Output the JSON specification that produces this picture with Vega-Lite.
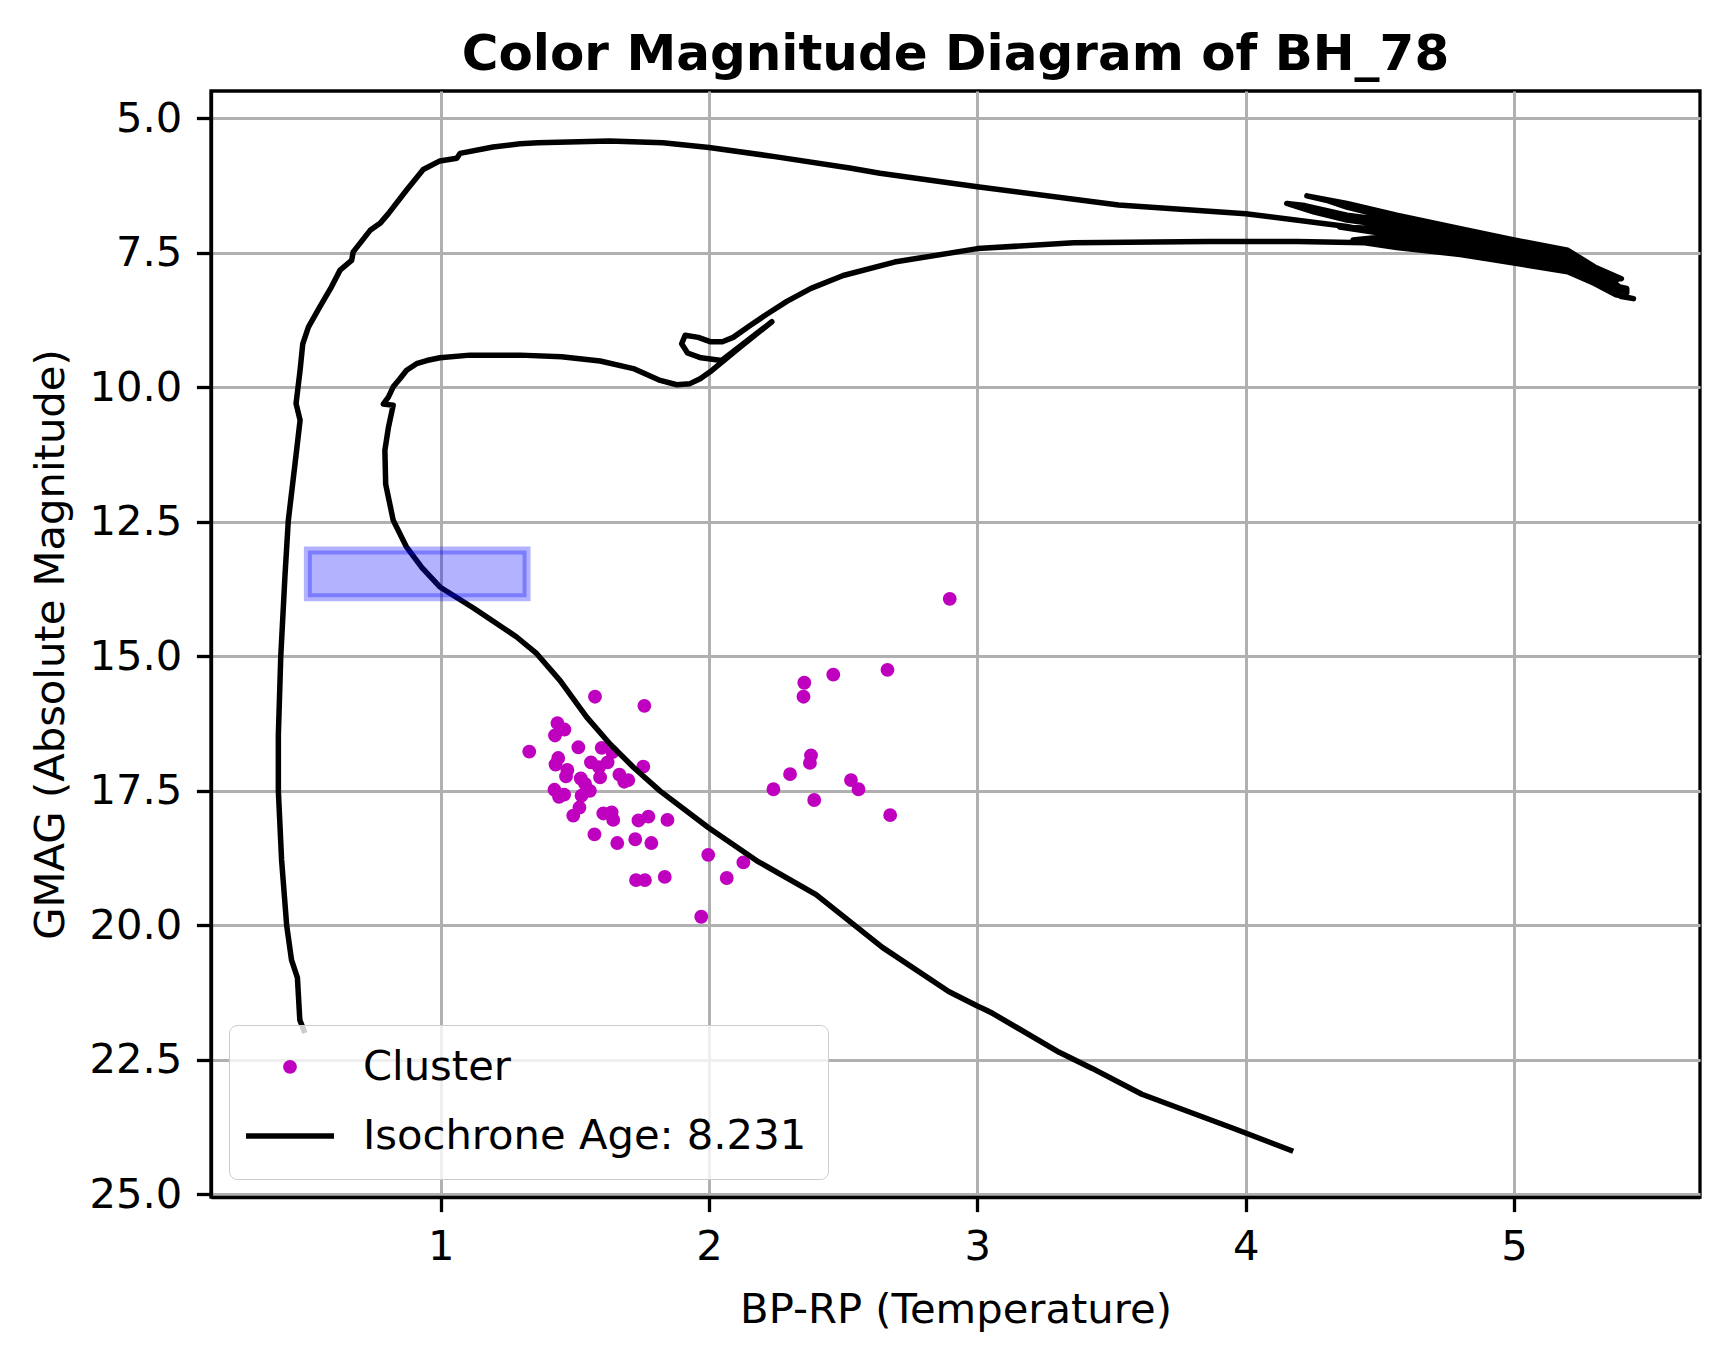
{
  "$schema": "https://vega.github.io/schema/vega-lite/v6.json",
  "width": 1489,
  "height": 1106,
  "autosize": {"type": "none"},
  "padding": {"left": 211, "top": 91, "right": 28, "bottom": 164},
  "background": "white",
  "title": {
    "text": "Color Magnitude Diagram of BH_78",
    "fontSize": 50,
    "fontWeight": "bold",
    "anchor": "middle",
    "baseline": "alphabetic",
    "offset": -29,
    "color": "black"
  },
  "config": {
    "font": "DejaVu Sans",
    "view": {"stroke": "black", "strokeWidth": 3.3},
    "axis": {
      "labelFontSize": 41.7,
      "labelColor": "black",
      "titleFontSize": 41.7,
      "titleFontWeight": "normal",
      "titleColor": "black",
      "tickSize": 14.6,
      "tickWidth": 3.3,
      "tickColor": "black",
      "domainColor": "black",
      "domainWidth": 3.3,
      "grid": true,
      "gridColor": "#b0b0b0",
      "gridWidth": 3,
      "gridOpacity": 1,
      "labelPadding": 14.6,
      "labelFlush": false,
      "labelOverlap": false
    },
    "legend": {
      "orient": "bottom-left",
      "offset": 18,
      "labelFontSize": 41.7,
      "labelColor": "black",
      "labelLimit": 1000,
      "symbolStrokeWidth": 5.5,
      "symbolOpacity": 1,
      "symbolOffset": -7,
      "labelOffset": 26,
      "rowPadding": -25,
      "padding": 21,
      "fillColor": "rgba(255,255,255,0.8)",
      "strokeColor": "#cccccc",
      "cornerRadius": 8
    }
  },
  "datasets": {
    "cluster": [
      {"bp_rp": 1.575, "gmag": 15.75, "series": "Cluster"},
      {"bp_rp": 1.759, "gmag": 15.92, "series": "Cluster"},
      {"bp_rp": 1.435, "gmag": 16.24, "series": "Cluster"},
      {"bp_rp": 1.461, "gmag": 16.36, "series": "Cluster"},
      {"bp_rp": 1.426, "gmag": 16.47, "series": "Cluster"},
      {"bp_rp": 1.330, "gmag": 16.77, "series": "Cluster"},
      {"bp_rp": 1.513, "gmag": 16.69, "series": "Cluster"},
      {"bp_rp": 1.600, "gmag": 16.70, "series": "Cluster"},
      {"bp_rp": 1.640, "gmag": 16.78, "series": "Cluster"},
      {"bp_rp": 1.438, "gmag": 16.89, "series": "Cluster"},
      {"bp_rp": 1.428, "gmag": 17.01, "series": "Cluster"},
      {"bp_rp": 1.622, "gmag": 16.97, "series": "Cluster"},
      {"bp_rp": 1.560, "gmag": 16.97, "series": "Cluster"},
      {"bp_rp": 1.472, "gmag": 17.11, "series": "Cluster"},
      {"bp_rp": 1.590, "gmag": 17.06, "series": "Cluster"},
      {"bp_rp": 1.755, "gmag": 17.05, "series": "Cluster"},
      {"bp_rp": 1.467, "gmag": 17.23, "series": "Cluster"},
      {"bp_rp": 1.522, "gmag": 17.27, "series": "Cluster"},
      {"bp_rp": 1.594, "gmag": 17.25, "series": "Cluster"},
      {"bp_rp": 1.666, "gmag": 17.20, "series": "Cluster"},
      {"bp_rp": 1.684, "gmag": 17.33, "series": "Cluster"},
      {"bp_rp": 1.699, "gmag": 17.30, "series": "Cluster"},
      {"bp_rp": 1.538, "gmag": 17.37, "series": "Cluster"},
      {"bp_rp": 1.424, "gmag": 17.48, "series": "Cluster"},
      {"bp_rp": 1.460, "gmag": 17.57, "series": "Cluster"},
      {"bp_rp": 1.441, "gmag": 17.61, "series": "Cluster"},
      {"bp_rp": 1.556, "gmag": 17.50, "series": "Cluster"},
      {"bp_rp": 1.525, "gmag": 17.59, "series": "Cluster"},
      {"bp_rp": 1.517, "gmag": 17.81, "series": "Cluster"},
      {"bp_rp": 1.494, "gmag": 17.96, "series": "Cluster"},
      {"bp_rp": 1.606, "gmag": 17.92, "series": "Cluster"},
      {"bp_rp": 1.637, "gmag": 17.90, "series": "Cluster"},
      {"bp_rp": 1.643, "gmag": 18.04, "series": "Cluster"},
      {"bp_rp": 1.737, "gmag": 18.05, "series": "Cluster"},
      {"bp_rp": 1.774, "gmag": 17.98, "series": "Cluster"},
      {"bp_rp": 1.845, "gmag": 18.04, "series": "Cluster"},
      {"bp_rp": 1.573, "gmag": 18.31, "series": "Cluster"},
      {"bp_rp": 1.658, "gmag": 18.47, "series": "Cluster"},
      {"bp_rp": 1.725, "gmag": 18.40, "series": "Cluster"},
      {"bp_rp": 1.785, "gmag": 18.47, "series": "Cluster"},
      {"bp_rp": 1.997, "gmag": 18.69, "series": "Cluster"},
      {"bp_rp": 1.728, "gmag": 19.16, "series": "Cluster"},
      {"bp_rp": 1.761, "gmag": 19.16, "series": "Cluster"},
      {"bp_rp": 1.835, "gmag": 19.10, "series": "Cluster"},
      {"bp_rp": 1.971, "gmag": 19.84, "series": "Cluster"},
      {"bp_rp": 2.066, "gmag": 19.12, "series": "Cluster"},
      {"bp_rp": 2.128, "gmag": 18.83, "series": "Cluster"},
      {"bp_rp": 2.665, "gmag": 15.25, "series": "Cluster"},
      {"bp_rp": 2.463, "gmag": 15.34, "series": "Cluster"},
      {"bp_rp": 2.355, "gmag": 15.49, "series": "Cluster"},
      {"bp_rp": 2.352, "gmag": 15.75, "series": "Cluster"},
      {"bp_rp": 2.380, "gmag": 16.84, "series": "Cluster"},
      {"bp_rp": 2.376, "gmag": 16.98, "series": "Cluster"},
      {"bp_rp": 2.302, "gmag": 17.19, "series": "Cluster"},
      {"bp_rp": 2.240, "gmag": 17.47, "series": "Cluster"},
      {"bp_rp": 2.529, "gmag": 17.30, "series": "Cluster"},
      {"bp_rp": 2.557, "gmag": 17.47, "series": "Cluster"},
      {"bp_rp": 2.392, "gmag": 17.67, "series": "Cluster"},
      {"bp_rp": 2.675, "gmag": 17.95, "series": "Cluster"},
      {"bp_rp": 2.897, "gmag": 13.93, "series": "Cluster"}
    ],
    "isochrone": [
      {"i": 0, "bp_rp": 4.177, "gmag": 24.20},
      {"i": 1, "bp_rp": 3.963, "gmag": 23.79},
      {"i": 2, "bp_rp": 3.613, "gmag": 23.14},
      {"i": 3, "bp_rp": 3.428, "gmag": 22.66},
      {"i": 4, "bp_rp": 3.305, "gmag": 22.36},
      {"i": 5, "bp_rp": 3.058, "gmag": 21.64},
      {"i": 6, "bp_rp": 3.030, "gmag": 21.57},
      {"i": 7, "bp_rp": 3.000, "gmag": 21.50},
      {"i": 8, "bp_rp": 2.893, "gmag": 21.23},
      {"i": 9, "bp_rp": 2.646, "gmag": 20.41},
      {"i": 10, "bp_rp": 2.399, "gmag": 19.43},
      {"i": 11, "bp_rp": 2.178, "gmag": 18.80},
      {"i": 12, "bp_rp": 1.997, "gmag": 18.18},
      {"i": 13, "bp_rp": 1.817, "gmag": 17.50},
      {"i": 14, "bp_rp": 1.718, "gmag": 17.06},
      {"i": 15, "bp_rp": 1.631, "gmag": 16.63},
      {"i": 16, "bp_rp": 1.544, "gmag": 16.13},
      {"i": 17, "bp_rp": 1.445, "gmag": 15.45},
      {"i": 18, "bp_rp": 1.358, "gmag": 14.95},
      {"i": 19, "bp_rp": 1.283, "gmag": 14.64},
      {"i": 20, "bp_rp": 1.200, "gmag": 14.36},
      {"i": 21, "bp_rp": 1.122, "gmag": 14.10},
      {"i": 22, "bp_rp": 0.997, "gmag": 13.71},
      {"i": 23, "bp_rp": 0.930, "gmag": 13.35},
      {"i": 24, "bp_rp": 0.873, "gmag": 12.97},
      {"i": 25, "bp_rp": 0.823, "gmag": 12.47},
      {"i": 26, "bp_rp": 0.795, "gmag": 11.80},
      {"i": 27, "bp_rp": 0.792, "gmag": 11.17},
      {"i": 28, "bp_rp": 0.805, "gmag": 10.75},
      {"i": 29, "bp_rp": 0.823, "gmag": 10.33},
      {"i": 30, "bp_rp": 0.786, "gmag": 10.31},
      {"i": 31, "bp_rp": 0.805, "gmag": 10.18},
      {"i": 32, "bp_rp": 0.823, "gmag": 9.99},
      {"i": 33, "bp_rp": 0.848, "gmag": 9.84},
      {"i": 34, "bp_rp": 0.873, "gmag": 9.68},
      {"i": 35, "bp_rp": 0.910, "gmag": 9.56},
      {"i": 36, "bp_rp": 0.948, "gmag": 9.50},
      {"i": 37, "bp_rp": 0.997, "gmag": 9.45},
      {"i": 38, "bp_rp": 1.109, "gmag": 9.40},
      {"i": 39, "bp_rp": 1.296, "gmag": 9.40},
      {"i": 40, "bp_rp": 1.450, "gmag": 9.43},
      {"i": 41, "bp_rp": 1.594, "gmag": 9.51},
      {"i": 42, "bp_rp": 1.718, "gmag": 9.65},
      {"i": 43, "bp_rp": 1.818, "gmag": 9.87},
      {"i": 44, "bp_rp": 1.880, "gmag": 9.95},
      {"i": 45, "bp_rp": 1.929, "gmag": 9.93},
      {"i": 46, "bp_rp": 1.967, "gmag": 9.84},
      {"i": 47, "bp_rp": 2.004, "gmag": 9.71},
      {"i": 48, "bp_rp": 2.116, "gmag": 9.25},
      {"i": 49, "bp_rp": 2.234, "gmag": 8.78},
      {"i": 50, "bp_rp": 2.047, "gmag": 9.50},
      {"i": 51, "bp_rp": 1.970, "gmag": 9.45},
      {"i": 52, "bp_rp": 1.920, "gmag": 9.36},
      {"i": 53, "bp_rp": 1.898, "gmag": 9.19},
      {"i": 54, "bp_rp": 1.911, "gmag": 9.03},
      {"i": 55, "bp_rp": 1.960, "gmag": 9.07},
      {"i": 56, "bp_rp": 2.004, "gmag": 9.15},
      {"i": 57, "bp_rp": 2.050, "gmag": 9.15},
      {"i": 58, "bp_rp": 2.090, "gmag": 9.07},
      {"i": 59, "bp_rp": 2.153, "gmag": 8.85},
      {"i": 60, "bp_rp": 2.215, "gmag": 8.64},
      {"i": 61, "bp_rp": 2.290, "gmag": 8.40},
      {"i": 62, "bp_rp": 2.380, "gmag": 8.16},
      {"i": 63, "bp_rp": 2.500, "gmag": 7.92},
      {"i": 64, "bp_rp": 2.691, "gmag": 7.67},
      {"i": 65, "bp_rp": 3.000, "gmag": 7.42},
      {"i": 66, "bp_rp": 3.359, "gmag": 7.31},
      {"i": 67, "bp_rp": 3.860, "gmag": 7.29},
      {"i": 68, "bp_rp": 4.194, "gmag": 7.29},
      {"i": 69, "bp_rp": 4.444, "gmag": 7.31},
      {"i": 70, "bp_rp": 4.563, "gmag": 7.40},
      {"i": 71, "bp_rp": 4.800, "gmag": 7.53},
      {"i": 72, "bp_rp": 5.000, "gmag": 7.69},
      {"i": 73, "bp_rp": 5.200, "gmag": 7.85},
      {"i": 74, "bp_rp": 5.300, "gmag": 8.07},
      {"i": 75, "bp_rp": 5.380, "gmag": 8.28},
      {"i": 76, "bp_rp": 5.445, "gmag": 8.35},
      {"i": 77, "bp_rp": 5.400, "gmag": 8.31},
      {"i": 78, "bp_rp": 5.365, "gmag": 8.22},
      {"i": 79, "bp_rp": 5.380, "gmag": 8.12},
      {"i": 80, "bp_rp": 5.420, "gmag": 8.16},
      {"i": 81, "bp_rp": 5.420, "gmag": 8.24},
      {"i": 82, "bp_rp": 5.390, "gmag": 8.15},
      {"i": 83, "bp_rp": 5.300, "gmag": 8.03},
      {"i": 84, "bp_rp": 5.200, "gmag": 7.80},
      {"i": 85, "bp_rp": 5.000, "gmag": 7.64},
      {"i": 86, "bp_rp": 4.800, "gmag": 7.47},
      {"i": 87, "bp_rp": 4.500, "gmag": 7.30},
      {"i": 88, "bp_rp": 4.400, "gmag": 7.26},
      {"i": 89, "bp_rp": 4.500, "gmag": 7.21},
      {"i": 90, "bp_rp": 4.800, "gmag": 7.41},
      {"i": 91, "bp_rp": 5.000, "gmag": 7.58},
      {"i": 92, "bp_rp": 5.200, "gmag": 7.75},
      {"i": 93, "bp_rp": 5.300, "gmag": 7.99},
      {"i": 94, "bp_rp": 5.400, "gmag": 8.20},
      {"i": 95, "bp_rp": 5.300, "gmag": 7.96},
      {"i": 96, "bp_rp": 5.200, "gmag": 7.70},
      {"i": 97, "bp_rp": 5.000, "gmag": 7.53},
      {"i": 98, "bp_rp": 4.800, "gmag": 7.35},
      {"i": 99, "bp_rp": 4.500, "gmag": 7.13},
      {"i": 100, "bp_rp": 4.350, "gmag": 7.02},
      {"i": 101, "bp_rp": 4.500, "gmag": 7.05},
      {"i": 102, "bp_rp": 4.800, "gmag": 7.29},
      {"i": 103, "bp_rp": 5.000, "gmag": 7.47},
      {"i": 104, "bp_rp": 5.200, "gmag": 7.65},
      {"i": 105, "bp_rp": 5.300, "gmag": 7.92},
      {"i": 106, "bp_rp": 5.390, "gmag": 8.12},
      {"i": 107, "bp_rp": 5.300, "gmag": 7.87},
      {"i": 108, "bp_rp": 5.200, "gmag": 7.60},
      {"i": 109, "bp_rp": 5.000, "gmag": 7.42},
      {"i": 110, "bp_rp": 4.800, "gmag": 7.23},
      {"i": 111, "bp_rp": 4.500, "gmag": 6.97},
      {"i": 112, "bp_rp": 4.377, "gmag": 6.89},
      {"i": 113, "bp_rp": 4.253, "gmag": 6.735},
      {"i": 114, "bp_rp": 4.153, "gmag": 6.58},
      {"i": 115, "bp_rp": 4.220, "gmag": 6.62},
      {"i": 116, "bp_rp": 4.377, "gmag": 6.80},
      {"i": 117, "bp_rp": 4.500, "gmag": 6.88},
      {"i": 118, "bp_rp": 4.800, "gmag": 7.17},
      {"i": 119, "bp_rp": 5.000, "gmag": 7.37},
      {"i": 120, "bp_rp": 5.200, "gmag": 7.55},
      {"i": 121, "bp_rp": 5.300, "gmag": 7.84},
      {"i": 122, "bp_rp": 5.380, "gmag": 8.03},
      {"i": 123, "bp_rp": 5.300, "gmag": 7.80},
      {"i": 124, "bp_rp": 5.200, "gmag": 7.50},
      {"i": 125, "bp_rp": 5.000, "gmag": 7.31},
      {"i": 126, "bp_rp": 4.800, "gmag": 7.11},
      {"i": 127, "bp_rp": 4.500, "gmag": 6.80},
      {"i": 128, "bp_rp": 4.377, "gmag": 6.65},
      {"i": 129, "bp_rp": 4.300, "gmag": 6.52},
      {"i": 130, "bp_rp": 4.228, "gmag": 6.44},
      {"i": 131, "bp_rp": 4.377, "gmag": 6.58},
      {"i": 132, "bp_rp": 4.563, "gmag": 6.80},
      {"i": 133, "bp_rp": 4.800, "gmag": 7.05},
      {"i": 134, "bp_rp": 5.000, "gmag": 7.26},
      {"i": 135, "bp_rp": 5.200, "gmag": 7.45},
      {"i": 136, "bp_rp": 5.300, "gmag": 7.76},
      {"i": 137, "bp_rp": 5.400, "gmag": 7.98},
      {"i": 138, "bp_rp": 5.300, "gmag": 7.93},
      {"i": 139, "bp_rp": 5.150, "gmag": 7.66},
      {"i": 140, "bp_rp": 4.900, "gmag": 7.44},
      {"i": 141, "bp_rp": 4.700, "gmag": 7.28},
      {"i": 142, "bp_rp": 4.563, "gmag": 7.20},
      {"i": 143, "bp_rp": 4.377, "gmag": 7.01},
      {"i": 144, "bp_rp": 4.000, "gmag": 6.77},
      {"i": 145, "bp_rp": 3.526, "gmag": 6.61},
      {"i": 146, "bp_rp": 3.000, "gmag": 6.27},
      {"i": 147, "bp_rp": 2.637, "gmag": 6.02},
      {"i": 148, "bp_rp": 2.524, "gmag": 5.92},
      {"i": 149, "bp_rp": 2.245, "gmag": 5.71},
      {"i": 150, "bp_rp": 2.000, "gmag": 5.54},
      {"i": 151, "bp_rp": 1.828, "gmag": 5.45},
      {"i": 152, "bp_rp": 1.628, "gmag": 5.42},
      {"i": 153, "bp_rp": 1.362, "gmag": 5.45},
      {"i": 154, "bp_rp": 1.296, "gmag": 5.47},
      {"i": 155, "bp_rp": 1.195, "gmag": 5.53},
      {"i": 156, "bp_rp": 1.072, "gmag": 5.65},
      {"i": 157, "bp_rp": 1.060, "gmag": 5.74},
      {"i": 158, "bp_rp": 0.997, "gmag": 5.79},
      {"i": 159, "bp_rp": 0.935, "gmag": 5.95},
      {"i": 160, "bp_rp": 0.873, "gmag": 6.33},
      {"i": 161, "bp_rp": 0.805, "gmag": 6.77},
      {"i": 162, "bp_rp": 0.774, "gmag": 6.95},
      {"i": 163, "bp_rp": 0.737, "gmag": 7.08},
      {"i": 164, "bp_rp": 0.674, "gmag": 7.48},
      {"i": 165, "bp_rp": 0.668, "gmag": 7.64},
      {"i": 166, "bp_rp": 0.625, "gmag": 7.82},
      {"i": 167, "bp_rp": 0.593, "gmag": 8.13},
      {"i": 168, "bp_rp": 0.550, "gmag": 8.50},
      {"i": 169, "bp_rp": 0.507, "gmag": 8.88},
      {"i": 170, "bp_rp": 0.486, "gmag": 9.19},
      {"i": 171, "bp_rp": 0.476, "gmag": 9.68},
      {"i": 172, "bp_rp": 0.461, "gmag": 10.30},
      {"i": 173, "bp_rp": 0.476, "gmag": 10.61},
      {"i": 174, "bp_rp": 0.463, "gmag": 11.17},
      {"i": 175, "bp_rp": 0.432, "gmag": 12.48},
      {"i": 176, "bp_rp": 0.420, "gmag": 13.47},
      {"i": 177, "bp_rp": 0.404, "gmag": 15.00},
      {"i": 178, "bp_rp": 0.395, "gmag": 16.46},
      {"i": 179, "bp_rp": 0.395, "gmag": 17.50},
      {"i": 180, "bp_rp": 0.407, "gmag": 18.78},
      {"i": 181, "bp_rp": 0.426, "gmag": 20.00},
      {"i": 182, "bp_rp": 0.444, "gmag": 20.64},
      {"i": 183, "bp_rp": 0.466, "gmag": 20.97},
      {"i": 184, "bp_rp": 0.475, "gmag": 21.76},
      {"i": 185, "bp_rp": 0.494, "gmag": 22.00}
    ],
    "box": [
      {"x_start": 0.505, "x_end": 1.32, "g_start": 13.03, "g_end": 13.9}
    ]
  },
  "layer": [
    {
      "data": {"name": "cluster"},
      "mark": {"type": "point", "filled": true, "opacity": 1, "stroke": "#bf00bf", "strokeWidth": 5.5, "clip": true},
      "encoding": {
        "x": {
          "field": "bp_rp",
          "type": "quantitative",
          "scale": {"domain": [0.144, 5.693], "nice": false, "zero": false},
          "axis": {"title": "BP-RP (Temperature)", "values": [1, 2, 3, 4, 5], "format": "d", "titlePadding": 22}
        },
        "y": {
          "field": "gmag",
          "type": "quantitative",
          "scale": {"domain": [4.49, 25.05], "nice": false, "zero": false, "reverse": true},
          "axis": {"title": "GMAG (Absolute Magnitude)", "values": [5, 7.5, 10, 12.5, 15, 17.5, 20, 22.5, 25], "format": ".1f", "titlePadding": 16}
        },
        "color": {
          "field": "series",
          "type": "nominal",
          "scale": {"domain": ["Cluster", "Isochrone Age: 8.231"], "range": ["#bf00bf", "black"]},
          "legend": {"title": null}
        },
        "shape": {
          "field": "series",
          "type": "nominal",
          "scale": {"domain": ["Cluster", "Isochrone Age: 8.231"], "range": ["circle", "stroke"]},
          "legend": {"title": null}
        },
        "size": {
          "field": "series",
          "type": "nominal",
          "scale": {"domain": ["Cluster", "Isochrone Age: 8.231"], "range": [70, 7744]},
          "legend": {"title": null}
        }
      }
    },
    {
      "data": {"name": "isochrone"},
      "transform": [{"calculate": "'Isochrone Age: 8.231'", "as": "series"}],
      "mark": {"type": "line", "strokeWidth": 5.5, "clip": true, "strokeJoin": "round"},
      "encoding": {
        "x": {"field": "bp_rp", "type": "quantitative"},
        "y": {"field": "gmag", "type": "quantitative"},
        "order": {"field": "i", "type": "quantitative"},
        "color": {"field": "series", "type": "nominal"}
      }
    },
    {
      "data": {"name": "box"},
      "mark": {
        "type": "rect",
        "fill": "blue",
        "fillOpacity": 0.3,
        "stroke": "blue",
        "strokeOpacity": 0.3,
        "strokeWidth": 8,
        "clip": true
      },
      "encoding": {
        "x": {"field": "x_start", "type": "quantitative"},
        "x2": {"field": "x_end"},
        "y": {"field": "g_start", "type": "quantitative"},
        "y2": {"field": "g_end"}
      }
    }
  ]
}
